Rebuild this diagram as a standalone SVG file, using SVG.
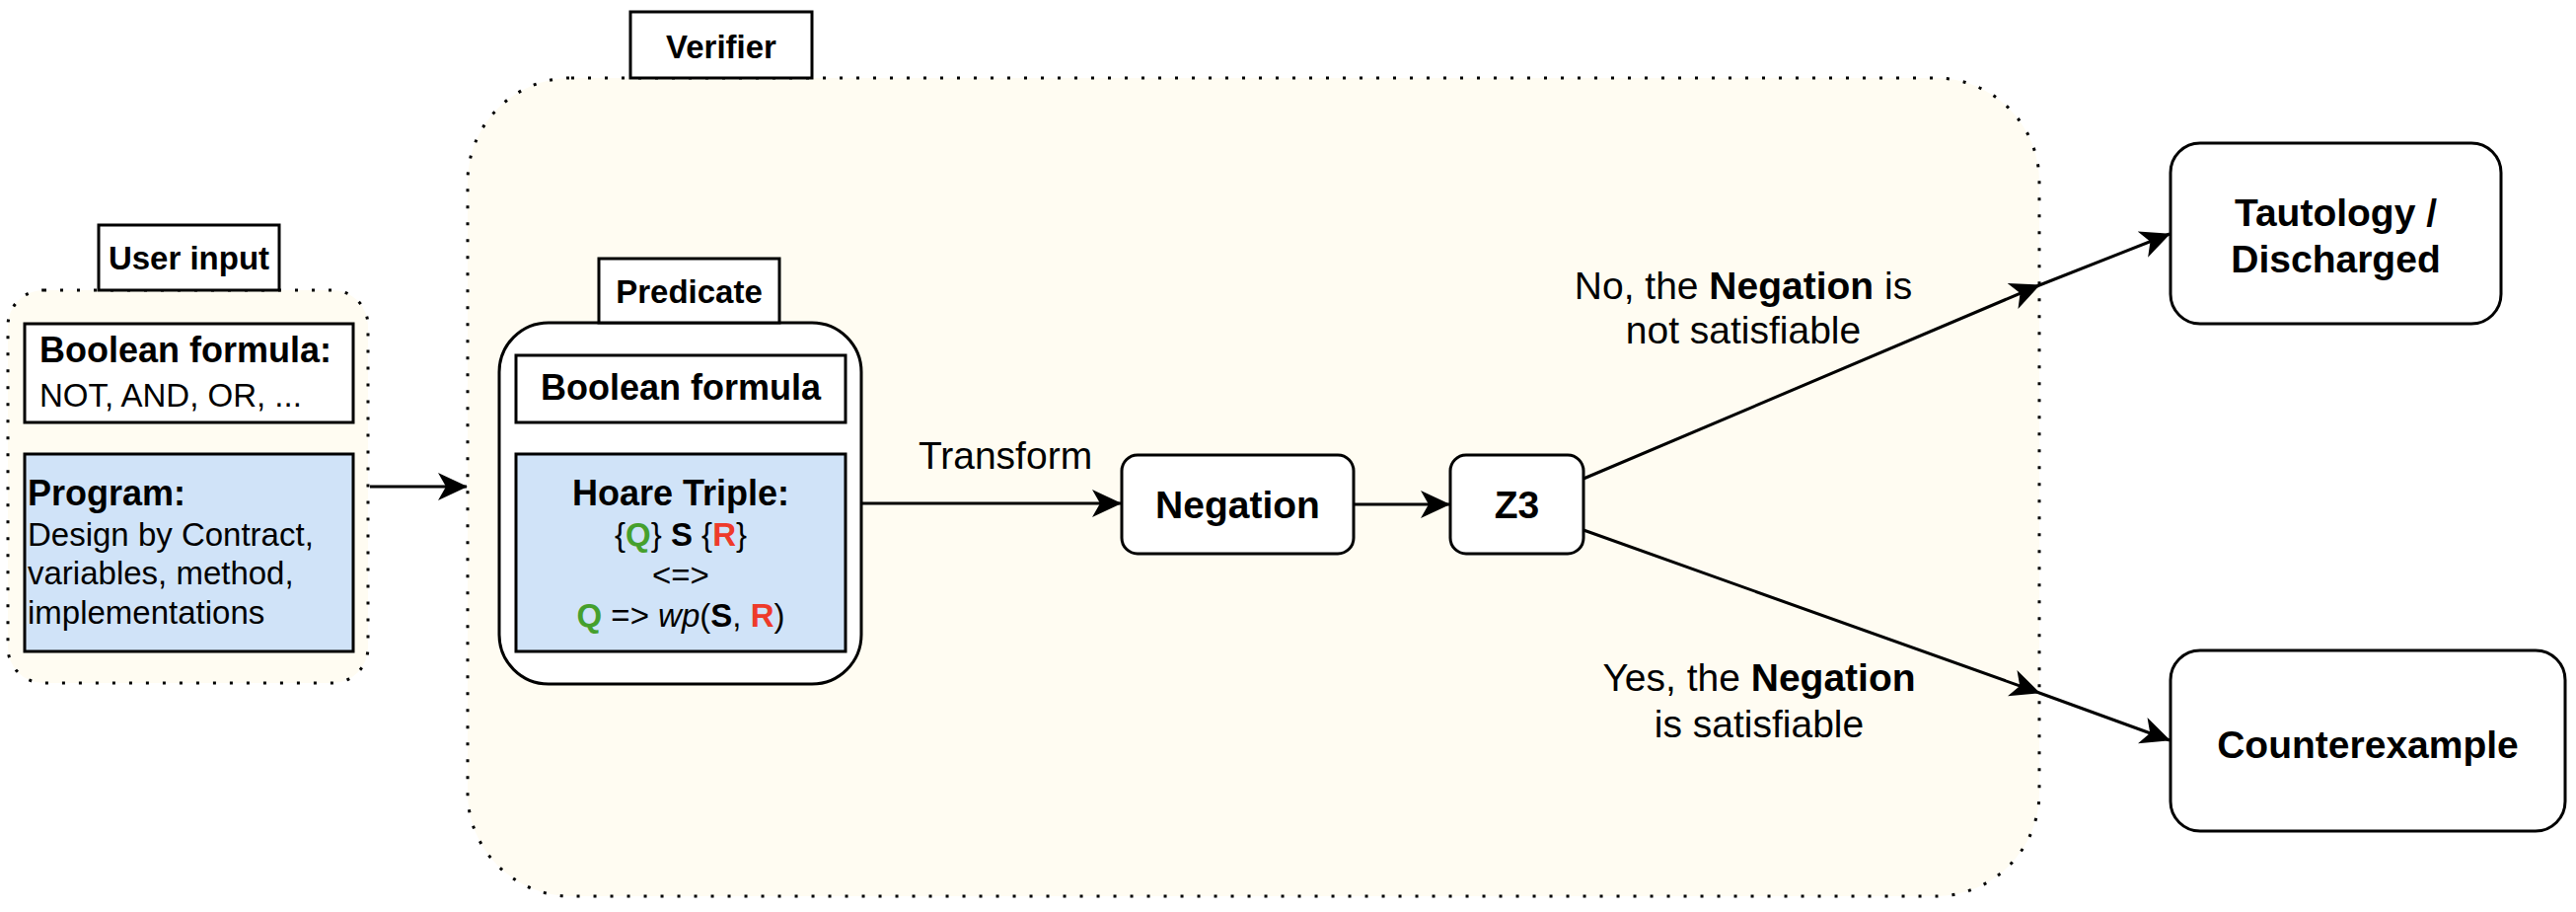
<svg xmlns="http://www.w3.org/2000/svg" width="2611" height="924" viewBox="0 0 2611 924">
<defs>
<style>
text{font-family:"Liberation Sans",Arial,Helvetica,sans-serif;fill:#000}
.lbl{font-size:33px;font-weight:bold;text-anchor:middle}
.hd{font-size:36px;font-weight:bold}
.tx{font-size:33px}
.nd{font-size:39px;font-weight:bold;text-anchor:middle}
.el{font-size:39px;text-anchor:middle}
.b{font-weight:bold}
.g{fill:#45a02d;font-weight:bold}
.r{fill:#ee3a2a;font-weight:bold}
.box{fill:#fff;stroke:#000;stroke-width:3}
.blue{fill:#d0e3f8;stroke:#000;stroke-width:3}
.dot{fill:#fffcf2;stroke:#000;stroke-width:3;stroke-dasharray:3 14}
.edge{fill:none;stroke:#000;stroke-width:3}
</style>
<marker id="arr" viewBox="0 0 30 30" refX="29" refY="15" markerWidth="30" markerHeight="30" markerUnits="userSpaceOnUse" orient="auto">
<path d="M0,1 L30,15 L0,29 L8,15 Z" fill="#000"/>
</marker>
</defs>
<rect width="2611" height="924" fill="#fff"/>

<g id="verifier">
<rect class="dot" x="474" y="79" width="1593" height="829" rx="105" ry="105"/>
<rect class="box" x="639" y="12" width="184" height="67"/>
<text class="lbl" x="731" y="59">Verifier</text>
</g>

<g id="user-input">
<rect class="dot" x="8" y="294" width="365" height="398" rx="36" ry="36"/>
<rect class="box" x="100" y="228" width="183" height="66"/>
<text class="lbl" x="191.5" y="273">User input</text>
<g id="boolean-formula-input">
<rect class="box" x="25" y="328" width="333" height="100"/>
<text class="hd" x="40" y="367">Boolean formula:</text>
<text class="tx" x="40" y="412">NOT, AND, OR, ...</text>
</g>
<g id="program">
<rect class="blue" x="25" y="460" width="333" height="200"/>
<text class="hd" x="28" y="512">Program:</text>
<text class="tx" x="28" y="553">Design by Contract,</text>
<text class="tx" x="28" y="592">variables, method,</text>
<text class="tx" x="28" y="632">implementations</text>
</g>
</g>

<g id="predicate">
<rect class="box" x="506" y="327" width="367" height="366" rx="50" ry="50"/>
<rect class="box" x="607" y="262" width="183" height="65"/>
<text class="lbl" x="698.5" y="307">Predicate</text>
<g id="boolean-formula">
<rect class="box" x="523" y="360" width="334" height="68"/>
<text class="hd" x="690" y="405" text-anchor="middle">Boolean formula</text>
</g>
<g id="hoare-triple">
<rect class="blue" x="523" y="460" width="334" height="200"/>
<text class="hd" x="690" y="512" text-anchor="middle">Hoare Triple:</text>
<text class="tx" x="690" y="553" text-anchor="middle">{<tspan class="g">Q</tspan>} <tspan class="b">S</tspan> {<tspan class="r">R</tspan>}</text>
<text class="tx" x="690" y="594" text-anchor="middle">&lt;=&gt;</text>
<text class="tx" x="690" y="635" text-anchor="middle"><tspan class="g">Q</tspan> =&gt; <tspan font-style="italic">wp</tspan>(<tspan class="b">S</tspan>, <tspan class="r">R</tspan>)</text>
</g>
</g>

<g id="negation">
<rect class="box" x="1137" y="461" width="235" height="100" rx="16" ry="16"/>
<text class="nd" x="1254.5" y="525">Negation</text>
</g>

<g id="z3">
<rect class="box" x="1470" y="461" width="135" height="100" rx="16" ry="16"/>
<text class="nd" x="1537.5" y="525">Z3</text>
</g>

<g id="tautology">
<rect class="box" x="2200" y="145" width="335" height="183" rx="30" ry="30"/>
<text class="nd" x="2367.5" y="229">Tautology /</text>
<text class="nd" x="2367.5" y="276">Discharged</text>
</g>

<g id="counterexample">
<rect class="box" x="2200" y="659" width="400" height="183" rx="30" ry="30"/>
<text class="nd" x="2400" y="768">Counterexample</text>
</g>

<g id="connectors">
<line class="edge" x1="375" y1="493" x2="473" y2="493" marker-end="url(#arr)"/>
<line class="edge" x1="873" y1="510" x2="1136" y2="510" marker-end="url(#arr)"/>
<text class="el" x="1019" y="475">Transform</text>
<line class="edge" x1="1372" y1="511" x2="1469" y2="511" marker-end="url(#arr)"/>
<polyline class="edge" points="1605,485 2067,289 2199,237" marker-mid="url(#arr)" marker-end="url(#arr)"/>
<text class="el" x="1767" y="303">No, the <tspan class="b">Negation</tspan> is</text>
<text class="el" x="1767" y="348">not satisfiable</text>
<polyline class="edge" points="1605,537 2067,702 2199,750" marker-mid="url(#arr)" marker-end="url(#arr)"/>
<text class="el" x="1783" y="700">Yes, the <tspan class="b">Negation</tspan></text>
<text class="el" x="1783" y="747">is satisfiable</text>
</g>
</svg>
